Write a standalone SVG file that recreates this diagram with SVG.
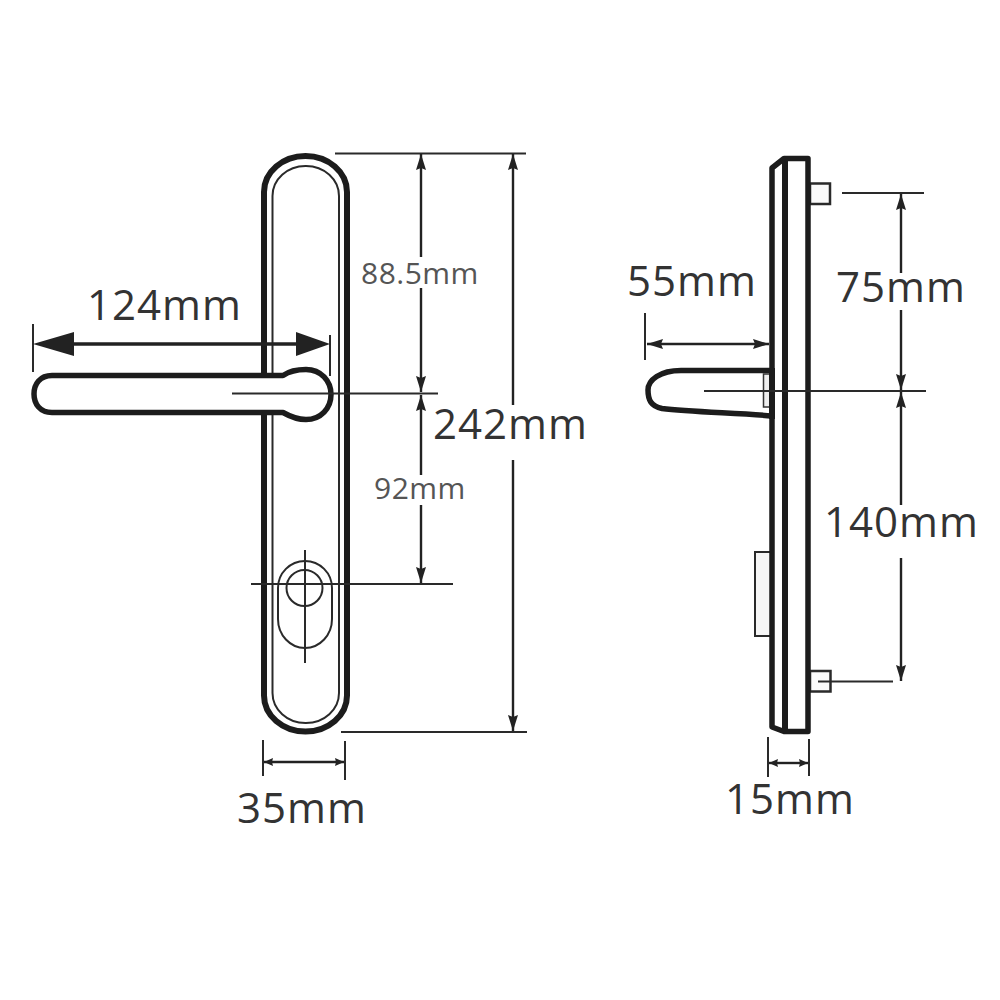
<svg xmlns="http://www.w3.org/2000/svg" width="1000" height="1000" viewBox="0 0 1000 1000">
<defs>
<marker id="a" viewBox="0 0 16 10" refX="16" refY="5" markerWidth="16" markerHeight="10" markerUnits="userSpaceOnUse" orient="auto"><path d="M0 0 16 5 0 10 2 5z" fill="#222"/></marker>
<marker id="s" viewBox="0 0 9 8" refX="9" refY="4" markerWidth="9" markerHeight="8" markerUnits="userSpaceOnUse" orient="auto"><path d="M0 0 9 4 0 8 1 4z" fill="#222"/></marker>
</defs>
<style>
text{font-family:"Open Sans","Noto Sans",sans-serif;fill:#333;font-size:42px;letter-spacing:1px}
text.g{font-size:30px;fill:#555;letter-spacing:.5px}
.o{fill:none;stroke:#1c1c1c;stroke-width:6}
.f{fill:#fff;stroke:#1c1c1c;stroke-width:5.5;stroke-linejoin:round}
.t{fill:none;stroke:#2a2a2a;stroke-width:2}
.d{fill:none;stroke:#2a2a2a;stroke-width:2}
.h{fill:none;stroke:#222;stroke-width:2.4}
</style>
<rect width="1000" height="1000" fill="#fff"/>
<g id="front-plate">
<rect x="264" y="156" width="83" height="575.500" rx="41.500" ry="36" class="o"/>
<rect x="272.500" y="166" width="66.500" height="557" rx="33" ry="30" class="t"/>
</g>
<g id="cylinder">
<path d="M278 588a27 27 0 0 1 54 0v31a27 29 0 0 1-54 0z" class="t"/>
<circle cx="304.500" cy="588" r="18" class="t"/>
<path d="M305 550V663" class="t"/>
</g>
<g id="front-handle">
<path d="M52 375.500H283C291 370 300 369.500 306 369.500C321 369.500 331 381 331 394.500C331 408 321 419.500 306 419.500C298 419.500 291 417 283 412.500H52C40 412.500 34 404 34 394C34 384 40 375.500 52 375.500Z" class="f"/>
</g>
<g id="side-plate">
<path d="M755 552H771V636H755Z" fill="#f6f6f6" stroke="#2a2a2a" stroke-width="2"/>
<rect x="810" y="183.500" width="20" height="20.500" fill="#fafafa" stroke="#2a2a2a" stroke-width="2.500"/>
<rect x="810" y="671" width="20.500" height="20.500" fill="#fafafa" stroke="#2a2a2a" stroke-width="2.500"/>
<path d="M772 168 784 158.500H808V731.500H784L772 727Z" class="f"/>
<path d="M785 158V732" class="o"/>
</g>
<g id="side-handle">
<path d="M772 370.500H681C660 370.500 648 380 648 390C648 400 651 406 662 408.500C690 412 740 413 772 416Z" class="f"/>
<rect x="763.500" y="374" width="7" height="33" fill="#eee" stroke="#333" stroke-width="1.500"/>
<path d="M772 368V419" class="o"/>
</g>
<g id="connectors">
<path d="M335 153.500H526M341 732H527M232 393.500H438M251 584H453M704 391H926M842 193H924M818 681.500H893" class="d"/>
<path d="M33 324V372M330 335V376" class="t"/>
<path d="M70 344H296" stroke="#222" stroke-width="3.500" fill="none"/>
<path d="M33 344 74 332V356Z M330 344 296 332V356Z" fill="#222"/>
<path d="M421 257V154" class="h" marker-end="url(#a)"/>
<path d="M421 288V392" class="h" marker-end="url(#a)"/>
<path d="M421 475V395" class="h" marker-end="url(#a)"/>
<path d="M421 505V583" class="h" marker-end="url(#a)"/>
<path d="M513 405V154" class="h" marker-end="url(#a)"/>
<path d="M513 460V731" class="h" marker-end="url(#a)"/>
<path d="M901 273V194" class="h" marker-end="url(#a)"/>
<path d="M901 310V390" class="h" marker-end="url(#a)"/>
<path d="M901 505V392" class="h" marker-end="url(#a)"/>
<path d="M901 558V681" class="h" marker-end="url(#a)"/>
<path d="M263 740V776M345 741V780M768 737V777M809 739V776M645 313V360" class="t"/>
<path d="M304 762H264" class="h" marker-end="url(#s)"/>
<path d="M304 762H344" class="h" marker-end="url(#s)"/>
<path d="M788 763H769" class="h" marker-end="url(#s)"/>
<path d="M788 763H808" class="h" marker-end="url(#s)"/>
<path d="M708 344H647" class="h" marker-end="url(#a)"/>
<path d="M708 344H769" class="h" marker-end="url(#a)"/>
</g>
<g id="labels">
<text x="87" y="320">124mm</text>
<text x="361" y="284" class="g">88.5mm</text>
<text x="374" y="499" class="g">92mm</text>
<text x="433" y="439">242mm</text>
<text x="237" y="823">35mm</text>
<text x="725" y="814">15mm</text>
<text x="627" y="296">55mm</text>
<text x="836" y="302">75mm</text>
<text x="824" y="537">140mm</text>
</g>
</svg>
